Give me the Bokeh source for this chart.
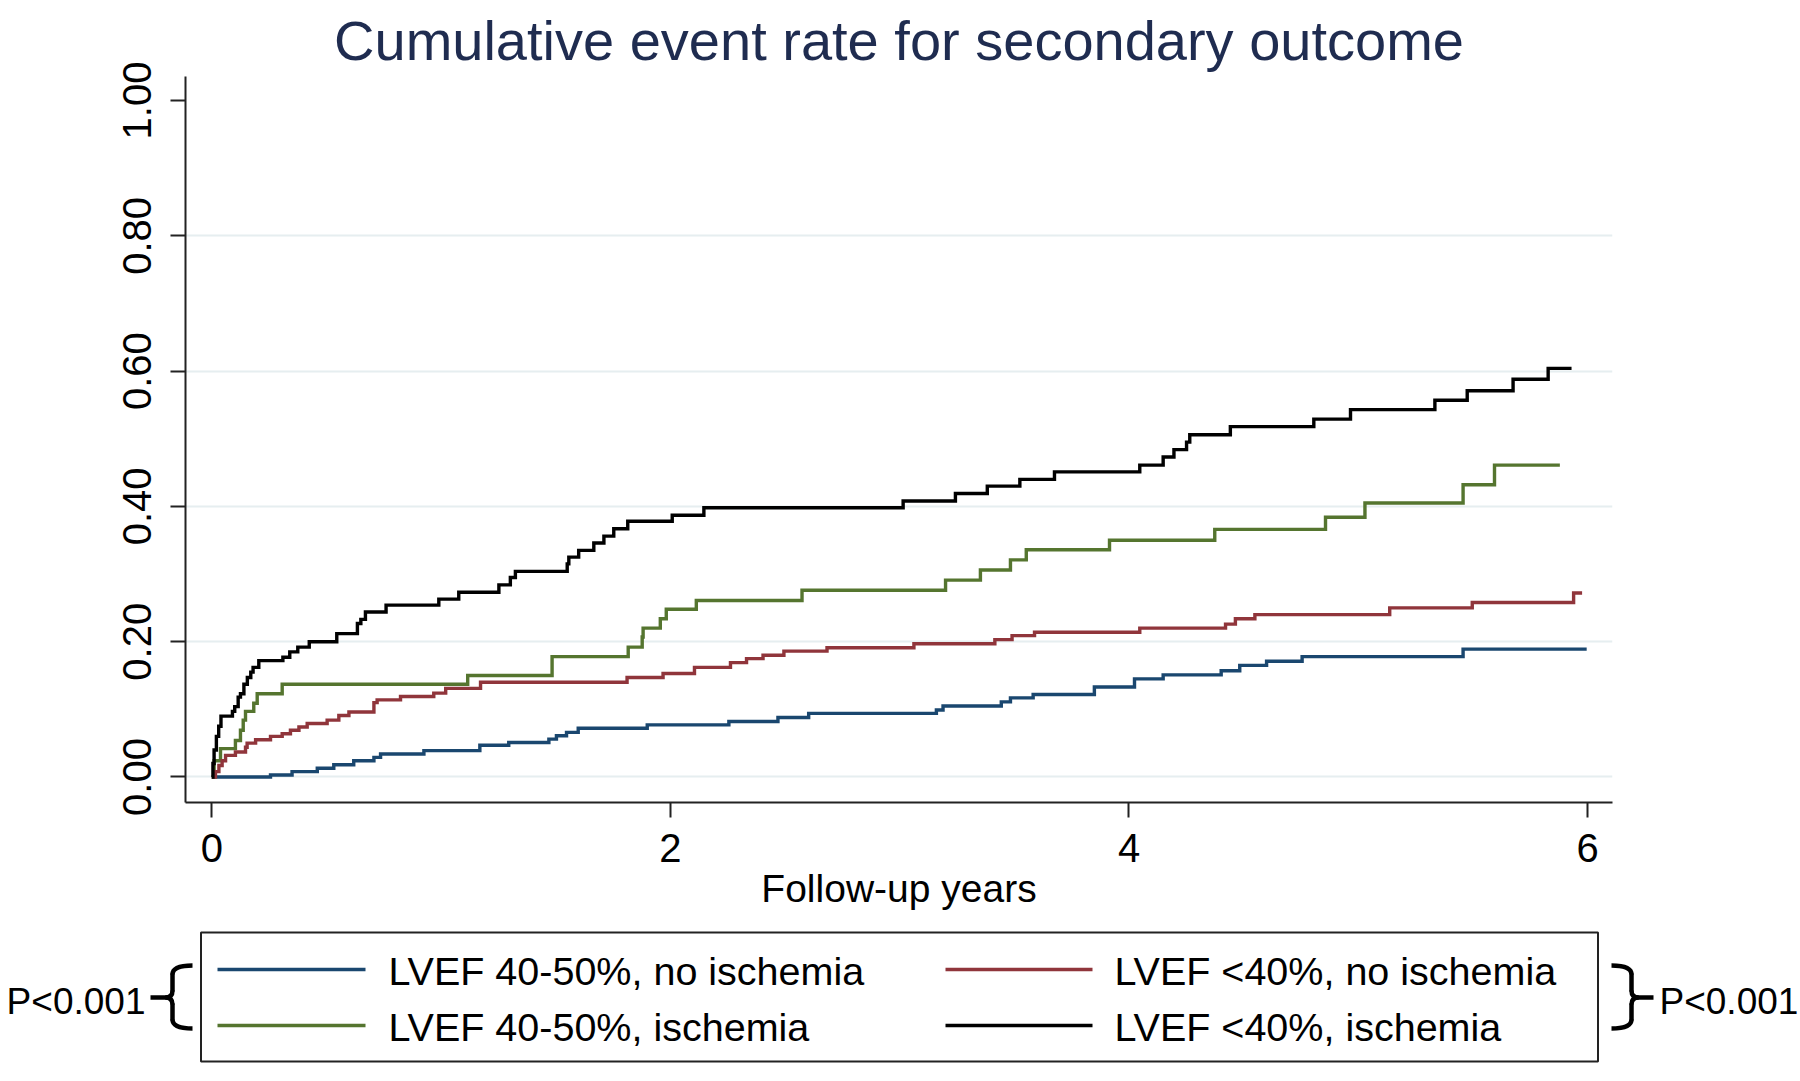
from bokeh.plotting import figure
from bokeh.models import Range1d, FixedTicker, PrintfTickFormatter
from bokeh.core.properties import value
from bokeh.embed import file_html
from bokeh.resources import INLINE

# ---------------- data ----------------
TITLE = "Cumulative event rate for secondary outcome"
X_LABEL = "Follow-up years"
X_TICKS = [0, 2, 4, 6]
Y_TICKS = [0.0, 0.2, 0.4, 0.6, 0.8, 1.0]
GRID_TICKS = [0.0, 0.2, 0.4, 0.6, 0.8]
P_TEXT = "P<0.001"

LABELS = ["LVEF 40-50%, no ischemia", "LVEF 40-50%, ischemia",
          "LVEF <40%, no ischemia", "LVEF <40%, ischemia"]
COLORS = ["#1A476F", "#55752F", "#90353B", "#000000"]

blue_t = [0, 0.256, 0.350, 0.460, 0.532, 0.619, 0.707, 0.736, 0.925, 1.169, 1.295, 1.470, 1.503,
          1.547, 1.598, 1.899, 2.255, 2.469, 2.603, 3.160, 3.189, 3.443, 3.483, 3.582, 3.849,
          4.024, 4.149, 4.402, 4.483, 4.600, 4.755, 5.457, 5.996]
blue_v = [0, 0.003, 0.008, 0.013, 0.018, 0.024, 0.029, 0.034, 0.039, 0.047, 0.051, 0.056, 0.061,
          0.066, 0.072, 0.077, 0.082, 0.088, 0.094, 0.099, 0.105, 0.111, 0.117, 0.122, 0.133,
          0.145, 0.151, 0.157, 0.165, 0.171, 0.178, 0.189, 0.189]

green_t = [0, 0.01, 0.038, 0.103, 0.125, 0.137, 0.147, 0.183, 0.198, 0.307, 1.116, 1.484, 1.816,
           1.877, 1.881, 1.956, 1.982, 2.113, 2.574, 3.200, 3.352, 3.483, 3.552, 3.915, 4.374,
           4.857, 5.029, 5.457, 5.594, 5.879]
green_v = [0, 0.024, 0.042, 0.054, 0.069, 0.084, 0.097, 0.109, 0.123, 0.137, 0.150, 0.178, 0.192,
           0.207, 0.220, 0.234, 0.248, 0.261, 0.276, 0.291, 0.306, 0.321, 0.336, 0.350, 0.366,
           0.384, 0.405, 0.432, 0.461, 0.461]

red_t = [0, 0.016, 0.031, 0.045, 0.060, 0.103, 0.147, 0.154, 0.191, 0.256, 0.307, 0.343, 0.380,
         0.416, 0.503, 0.554, 0.598, 0.707, 0.721, 0.823, 0.968, 1.02, 1.172, 1.811, 1.968, 2.105,
         2.262, 2.332, 2.404, 2.495, 2.683, 3.062, 3.415, 3.490, 3.588, 4.047, 4.421, 4.464, 4.549,
         5.137, 5.497, 5.939, 5.976]
red_v = [0, 0.008, 0.017, 0.024, 0.032, 0.037, 0.044, 0.050, 0.055, 0.060, 0.064, 0.069, 0.074,
         0.079, 0.084, 0.091, 0.096, 0.110, 0.114, 0.119, 0.124, 0.131, 0.140, 0.147, 0.153, 0.162,
         0.169, 0.175, 0.180, 0.186, 0.191, 0.197, 0.203, 0.209, 0.214, 0.220, 0.226, 0.234, 0.240,
         0.250, 0.258, 0.272, 0.272]

black_t = [0, 0.005, 0.01, 0.02, 0.03, 0.04, 0.09, 0.10, 0.115, 0.125, 0.14, 0.155, 0.17, 0.18,
           0.205, 0.31, 0.34, 0.375, 0.425, 0.545, 0.635, 0.65, 0.67, 0.76, 0.99, 1.077, 1.252,
           1.302, 1.324, 1.55, 1.557, 1.60, 1.666, 1.71, 1.753, 1.814, 2.008, 2.146, 3.015, 3.243,
           3.382, 3.524, 3.675, 4.047, 4.149, 4.196, 4.251, 4.265, 4.442, 4.806, 4.966, 5.334,
           5.475, 5.675, 5.828, 5.93]
black_v = [0, 0.02, 0.04, 0.06, 0.075, 0.09, 0.097, 0.104, 0.118, 0.123, 0.137, 0.147, 0.155, 0.162,
           0.172, 0.177, 0.185, 0.192, 0.200, 0.212, 0.227, 0.233, 0.244, 0.254, 0.263, 0.273, 0.284,
           0.295, 0.304, 0.315, 0.325, 0.335, 0.346, 0.356, 0.367, 0.378, 0.387, 0.398, 0.408, 0.419,
           0.430, 0.440, 0.451, 0.461, 0.473, 0.484, 0.495, 0.506, 0.518, 0.529, 0.543, 0.557,
           0.571, 0.588, 0.604, 0.604]

SERIES_T = [blue_t, green_t, red_t, black_t]
SERIES_V = [blue_v, green_v, red_v, black_v]

# ---------------- layout / style ----------------
FONT = "Liberation Sans"
W = 1800
X_START, X_END = -0.1147, 6.1086
Y_START, Y_END = -0.0377, 1.0355
MAIN_H = 923

p = figure(width=W, height=MAIN_H, x_range=Range1d(X_START, X_END), y_range=Range1d(Y_START, Y_END),
           output_backend="svg", toolbar_location=None, title=TITLE,
           min_border_left=185, min_border_right=188, min_border_top=76,
           min_border_bottom=MAIN_H - 802)
p.outline_line_color = None
p.background_fill_color = "white"
p.border_fill_color = "white"
p.title.align = "center"
p.title.text_font = FONT
p.title.text_font_size = "56px"
p.title.text_font_style = "normal"
p.title.text_color = "#1F2C50"
p.title.standoff = 9

for t, v, c in zip(SERIES_T, SERIES_V, COLORS):
    p.step(x=t, y=v, mode="after", line_color=c, line_width=3.4, line_join="miter")

p.xaxis.ticker = FixedTicker(ticks=X_TICKS)
p.yaxis.ticker = FixedTicker(ticks=Y_TICKS)
p.yaxis.formatter = PrintfTickFormatter(format="%.2f")
p.yaxis.major_label_orientation = "vertical"
for ax in (p.xaxis[0], p.yaxis[0]):
    ax.axis_line_width = 2
    ax.axis_line_color = "#222222"
    ax.major_tick_line_width = 2
    ax.major_tick_line_color = "#222222"
    ax.major_tick_out = 15
    ax.major_tick_in = 0
    ax.minor_tick_line_color = None
    ax.major_label_text_font = FONT
    ax.major_label_text_font_size = "40px"
    ax.major_label_text_color = "black"
p.xaxis.major_label_standoff = 16
p.yaxis.major_label_standoff = 19
p.xaxis.axis_label = X_LABEL
p.xaxis.axis_label_text_font = FONT
p.xaxis.axis_label_text_font_size = "39px"
p.xaxis.axis_label_text_font_style = "normal"
p.xaxis.axis_label_text_color = "black"
p.xaxis.axis_label_standoff = 2

p.xgrid.visible = False
p.ygrid.ticker = FixedTicker(ticks=GRID_TICKS)
p.ygrid.grid_line_color = "#E6EEF0"
p.ygrid.grid_line_width = 2

# ---------------- legend panel (page-pixel coordinates) ----------------
L_TOP = MAIN_H
L_H = 1081 - MAIN_H
q = figure(width=W, height=L_H, x_range=Range1d(0, W), y_range=Range1d(L_TOP + L_H, L_TOP),
           output_backend="svg", toolbar_location=None, min_border=0,
           x_axis_type=None, y_axis_type=None)
q.outline_line_color = None
q.grid.visible = False
q.background_fill_color = "white"
q.border_fill_color = "white"

q.quad(left=[200.5], right=[1597.5], top=[932], bottom=[1061], fill_color=None,
       line_color="#222222", line_width=2)

col_line_x0 = [217, 217, 945, 945]
col_line_x1 = [365, 365, 1092, 1092]
row_y = [969, 1025, 969, 1025]
q.segment(x0=col_line_x0, y0=row_y, x1=col_line_x1, y1=row_y, line_color=COLORS, line_width=3.4)
q.text(x=[388, 388, 1114, 1114], y=[y + 1 for y in row_y], text=LABELS,
       text_font=value(FONT), text_font_size="39.5px", text_baseline="alphabetic",
       text_color="black")


def brace(xv, s):
    # s=+1: tip points right, s=-1: tip points left
    yt, yb, ym = 965, 1028, 997
    arm, tip = 20, 22
    q.bezier(x0=[xv - s * arm, xv, xv, xv],
             y0=[yt, yb - 9, ym - 7, ym + 7],
             x1=[xv, xv - s * arm, xv + s * 7, xv + s * 7],
             y1=[yt + 9, yb, ym, ym],
             cx0=[xv - s * 6, xv, xv, xv],
             cy0=[yt, yb - 3, ym - 2, ym + 2],
             cx1=[xv, xv - s * 6, xv + s * 3, xv + s * 3],
             cy1=[yt + 3, yb, ym, ym],
             line_color="black", line_width=4.5)
    q.segment(x0=[xv, xv, xv + s * 6], y0=[yt + 8, ym + 6, ym],
              x1=[xv, xv, xv + s * tip], y1=[ym - 6, yb - 8, ym],
              line_color="black", line_width=4.5)


brace(172, -1)
brace(1631, 1)
q.text(x=[145], y=[1001], text=[P_TEXT], text_font=value(FONT), text_font_size="37px",
       text_baseline="alphabetic", text_align="right", text_color="black")
q.text(x=[1659], y=[1001], text=[P_TEXT], text_font=value(FONT), text_font_size="37px",
       text_baseline="alphabetic", text_align="left", text_color="black")

open("out.html", "w").write(file_html([p, q], INLINE))
